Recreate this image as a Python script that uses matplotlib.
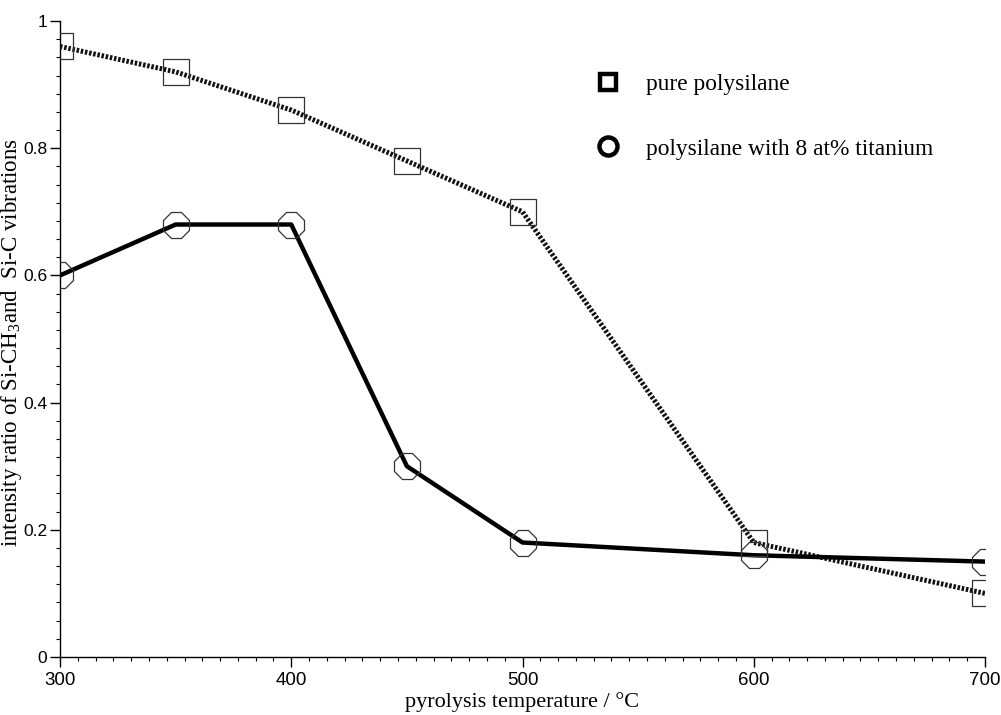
import matplotlib
matplotlib.use("Agg")
import matplotlib.pyplot as plt
from matplotlib.lines import Line2D
from matplotlib.ticker import MultipleLocator

plt.rcParams["mathtext.fontset"] = "custom"
plt.rcParams["mathtext.rm"] = "Liberation Serif"
plt.rcParams["mathtext.it"] = "Liberation Serif:italic"

# Data
temperature = [300, 350, 400, 450, 500, 600, 700]
pure_polysilane = [0.96, 0.92, 0.86, 0.78, 0.70, 0.18, 0.10]
titanium_polysilane = [0.60, 0.68, 0.68, 0.30, 0.18, 0.16, 0.15]
x_ticks = [300, 400, 500, 600, 700]
y_ticks = [0, 0.2, 0.4, 0.6, 0.8, 1]
y_tick_labels = ["0", "0.2", "0.4", "0.6", "0.8", "1"]

fig = plt.figure(figsize=(10.01, 7.15), dpi=100)
ax = fig.add_axes([60 / 1001, 58 / 715, 925 / 1001, 636 / 715])

# pure polysilane: dense dotted line with hollow squares
ax.plot(temperature, pure_polysilane, color="#111111", linewidth=3.6,
        linestyle=(0, (0.5, 0.35)), solid_capstyle="butt", zorder=3)
ax.plot(temperature, pure_polysilane, linestyle="none", marker="s",
        markersize=18.5, markerfacecolor="none", markeredgecolor="#333333",
        markeredgewidth=0.9, zorder=4)

# titanium: solid thick line with hollow octagons
ax.plot(temperature, titanium_polysilane, color="black", linewidth=3.2, zorder=3)
ax.plot(temperature, titanium_polysilane, linestyle="none", marker="8",
        markersize=19.5, markerfacecolor="none", markeredgecolor="#333333",
        markeredgewidth=0.9, zorder=4)

ax.set_xlim(300, 700)
ax.set_ylim(0, 1)
ax.spines["top"].set_visible(False)
ax.spines["right"].set_visible(False)
ax.spines["left"].set_linewidth(1.0)
ax.spines["bottom"].set_linewidth(1.0)

ax.set_xticks(x_ticks)
ax.set_yticks(y_ticks)
ax.set_yticklabels(y_tick_labels)
ax.xaxis.set_minor_locator(MultipleLocator(100 / 13))
ax.yaxis.set_minor_locator(MultipleLocator(0.2 / 7))
ax.tick_params(which="major", direction="out", length=7, width=1.0, pad=2)
ax.tick_params(axis="x", which="major", pad=4)
ax.tick_params(which="minor", direction="out", length=3, width=0.8)
for lab in ax.get_yticklabels():
    lab.set_family("Liberation Sans")
    lab.set_fontsize(12.5)
for lab in ax.get_xticklabels():
    lab.set_family("Liberation Sans")
    lab.set_fontsize(13.5)

ax.set_xlabel("pyrolysis temperature / °C", family="Liberation Serif",
              fontsize=16, labelpad=2)
ax.set_ylabel("intensity ratio of Si-CH$_3$and  Si-C vibrations",
              family="Liberation Serif", fontsize=16.5)
ax.yaxis.set_label_coords(24 / 1001, 1 - 343 / 715, transform=fig.transFigure)

handles = [
    Line2D([], [], linestyle="none", marker="s", markersize=12,
           markerfacecolor="none", markeredgecolor="black", markeredgewidth=3.2),
    Line2D([], [], linestyle="none", marker="o", markersize=13,
           markerfacecolor="none", markeredgecolor="black", markeredgewidth=3.2),
]
ax.legend(handles, ["pure polysilane", "polysilane with 8 at% titanium"],
          loc="upper left", bbox_to_anchor=(585 / 1001, 1 - 62 / 715),
          bbox_transform=fig.transFigure, frameon=False, borderpad=0,
          handlelength=1.0, handletextpad=1.1, labelspacing=1.85,
          prop={"family": "Liberation Serif", "size": 16.8})

fig.savefig("out.png", dpi=100)
